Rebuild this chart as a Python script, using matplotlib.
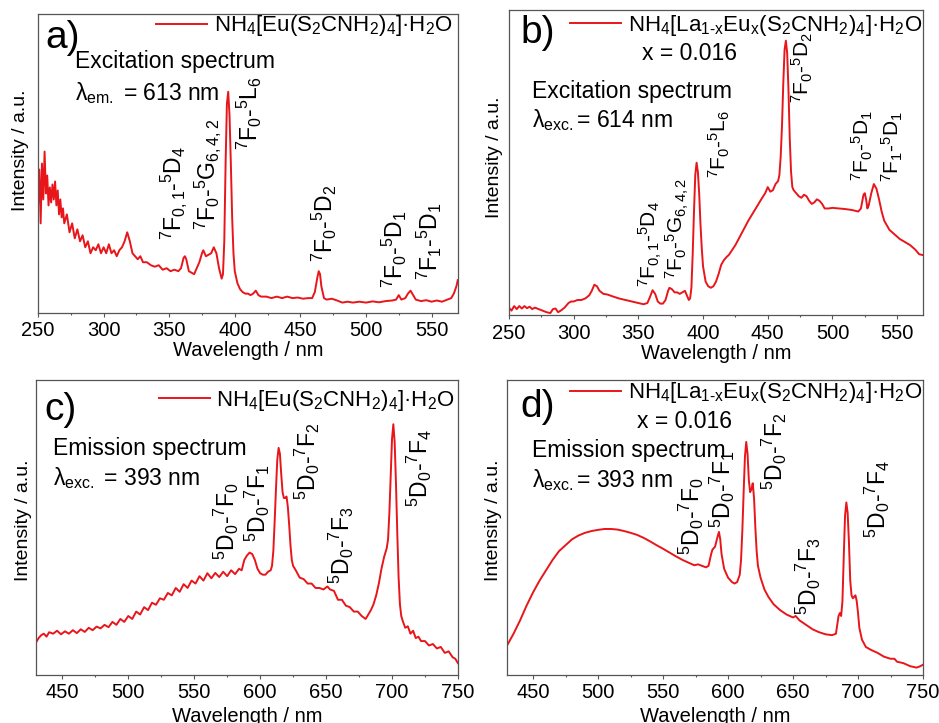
import matplotlib
matplotlib.use('Agg')
import matplotlib.pyplot as plt

plt.rcParams['font.family'] = ['Liberation Sans', 'DejaVu Sans']
plt.rcParams['mathtext.fontset'] = 'custom'
plt.rcParams['mathtext.rm'] = 'Liberation Sans'
plt.rcParams['mathtext.it'] = 'Liberation Sans:italic'
plt.rcParams['mathtext.bf'] = 'Liberation Sans:bold'
plt.rcParams['mathtext.default'] = 'rm'

RED = '#e8161b'
GREY = '#555555'

# a) excitation, NH4[Eu(S2CNH2)4]·H2O  (intensity in % of the plot height)
a_wl = [250, 251, 252, 253, 254, 255, 256, 257, 258, 259, 260, 261, 262, 263, 264, 265, 266, 267, 268, 269,
        270, 272, 274, 276, 278, 280, 282, 284, 286, 288, 290, 292, 294, 296, 298, 300, 302, 304, 306, 308,
        310, 312, 314, 316, 318, 320, 322, 324, 326, 328, 330, 333, 336, 339, 342, 345, 348, 351, 354, 357,
        359, 361, 362, 363, 365, 367, 369, 371, 373, 375, 376, 378, 380, 382, 384, 386, 388, 390, 391, 392,
        393, 394, 395, 396, 397, 398, 399, 400, 402, 404, 406, 408, 410, 412, 414, 416, 418, 420, 424, 428,
        432, 436, 440, 444, 448, 452, 456, 459, 461, 463, 464, 465, 466, 468, 470, 474, 478, 482, 486, 490,
        495, 500, 505, 510, 515, 520, 523, 525, 527, 530, 532, 534, 536, 538, 542, 546, 550, 554, 558, 562,
        565, 567, 569, 570]
a_int = [36, 48, 30, 50, 38, 54, 40, 46, 36, 42, 37, 43, 38, 44, 36, 41, 33, 38, 32, 35,
         30, 33, 27, 30, 25, 28, 24, 26, 22, 24, 20, 22, 21, 23, 20, 22, 20, 23, 20, 21,
         19, 21, 22, 24, 27, 24, 20, 19, 18, 19, 17, 17, 16, 15.5, 16, 14.5, 15, 14, 14.5, 14,
         15, 18.5, 19, 18, 14, 13.5, 13, 15, 17, 20, 21, 19, 19.5, 20, 22, 20, 15, 11.5, 13, 24,
         50, 70, 74, 66, 50, 32, 20, 14, 10, 8, 7, 6.5, 6.5, 6, 6.5, 7.5, 6, 5.5, 5.5, 5,
         5.5, 5, 5.5, 5, 5.2, 4.8, 5, 5, 7, 12, 14, 13, 9, 5, 4.5, 4.8, 4.2, 3.5, 3.8, 3.5,
         3.8, 3.5, 3.9, 3.6, 4, 4.2, 4.5, 6, 4.5, 5, 6.5, 7.5, 6, 4.5, 4, 4.3, 3.8, 4.2, 3.8, 4.5,
         5, 6.5, 9, 11]

# b) excitation, NH4[La1-xEux(S2CNH2)4]·H2O, x = 0.016
b_wl = [250, 252, 254, 256, 258, 260, 262, 264, 266, 268, 270, 273, 276, 279, 282, 284, 286, 288, 290, 293,
        296, 298, 300, 303, 306, 309, 312, 314, 316, 318, 320, 323, 326, 330, 335, 340, 345, 350, 354, 357,
        359, 361, 363, 365, 367, 369, 371, 373, 374, 376, 378, 380, 382, 384, 386, 388, 389, 390, 391, 392,
        393, 394, 395, 396, 397, 398, 399, 400, 402, 404, 406, 408, 410, 412, 414, 416, 418, 420, 425, 430,
        435, 440, 445, 448, 450, 452, 454, 456, 458, 459, 460, 461, 462, 463, 464, 465, 466, 467, 468, 469,
        470, 472, 474, 476, 478, 480, 482, 484, 486, 488, 490, 492, 494, 497, 500, 505, 510, 515, 520, 522,
        524, 525, 526, 527, 528, 530, 532, 534, 536, 538, 540, 544, 548, 552, 556, 560, 564, 567, 570]
b_int = [2.5, 1.5, 3, 2, 3, 2.2, 3, 2.3, 2.8, 2, 2.5, 2, 1.5, 1, 0.7, 2, 2.2, 1, 1.5, 2.5,
         4, 4.5, 4.5, 5, 5, 5.5, 6.5, 8, 10, 9.5, 8, 7, 6.8, 6.2, 5.5, 5, 4.5, 4, 3.6, 4,
         6, 8.2, 7, 4.5, 3.8, 3.8, 5, 8, 9, 8.5, 7.5, 7.5, 7, 7.5, 8, 6, 5, 5.5, 9, 20,
         34, 46, 50, 47, 40, 30, 22, 16, 11, 9.5, 9, 9.5, 11, 13.5, 16.5, 18, 19, 19.8, 23, 27,
         31, 34.5, 38, 40, 42, 40.5, 41, 43, 44, 46, 52, 62, 76, 87, 90, 86, 74, 58, 47, 42,
         41, 40, 39, 38.5, 39.5, 39, 37.5, 36.5, 37, 38, 37.5, 36.5, 35, 35, 35.2, 35, 34.8, 34.5, 34, 35,
         39.5, 40, 38, 35, 36, 40, 43, 41.5, 38, 34, 31, 28, 26.5, 25, 24, 23, 21.5, 20, 19.7]

# c) emission, NH4[Eu(S2CNH2)4]·H2O
c_wl = [430, 432, 434, 436, 438, 440, 443, 446, 449, 452, 455, 458, 461, 464, 467, 470, 473, 476, 479, 482,
        485, 488, 491, 494, 497, 500, 503, 506, 509, 512, 515, 518, 521, 524, 527, 530, 533, 536, 539, 542,
        545, 548, 551, 554, 557, 560, 563, 566, 569, 572, 575, 578, 581, 584, 586, 588, 590, 592, 594, 596,
        598, 600, 602, 604, 606, 608, 609, 610, 611, 612, 613, 614, 615, 616, 617, 618, 619, 620, 621, 622,
        623, 624, 625, 627, 630, 633, 636, 639, 642, 645, 648, 651, 653, 656, 659, 662, 665, 668, 671, 674,
        677, 680, 682, 684, 686, 688, 690, 692, 694, 696, 697, 698, 699, 700, 701, 702, 703, 704, 705, 706,
        707, 708, 710, 712, 714, 716, 718, 720, 722, 725, 728, 731, 734, 737, 740, 743, 746, 748, 750]
c_int = [11, 12.5, 13.5, 14, 13, 14.5, 14, 15, 13.8, 14.8, 14, 15.2, 14.2, 15.5, 14.6, 16, 15.2, 16.4, 15.8, 17,
         16.2, 18, 17, 19, 18, 20, 19, 21.5, 20.5, 23, 22, 24.5, 23.8, 26, 25.5, 27.8, 27, 29.5, 28.2, 30.8,
         29.5, 32, 31, 33.5, 32, 34.5, 32.8, 34.6, 33.2, 35, 33.5, 35.5, 34.2, 36, 35.5, 39, 40.5, 41.5, 41, 39,
         36, 34.5, 34, 34, 35, 35.5, 37, 42, 52, 63, 73, 77, 75, 68, 62, 60, 60, 60.5, 57, 51,
         44, 39, 37, 35.5, 33, 32.5, 31, 31, 29.5, 29.5, 29, 30, 29, 28.5, 25.5, 25.5, 23.5, 23, 21.5, 21.5,
         20, 19, 20.5, 22, 24, 27, 31, 36, 40, 43, 46, 55, 68, 80, 85, 79, 65, 48, 33, 24,
         20, 18.5, 16, 16.5, 14, 15, 12.5, 13, 11.5, 11.5, 10, 10.5, 9, 9.5, 7.5, 8, 6, 5.5, 4]

# d) emission, NH4[La1-xEux(S2CNH2)4]·H2O, x = 0.016
d_wl = [430, 435, 440, 445, 450, 455, 460, 465, 470, 475, 480, 485, 490, 495, 500, 505, 510, 515, 520, 525,
        530, 535, 540, 545, 550, 555, 560, 565, 570, 574, 577, 580, 583, 585, 587, 588, 590, 592, 593, 594,
        595, 597, 600, 603, 605, 607, 609, 610, 611, 612, 613, 614, 615, 616, 617, 618, 619, 620, 621, 622,
        623, 625, 628, 631, 635, 640, 645, 650, 652, 655, 660, 665, 670, 675, 680, 683, 685, 686, 687, 688,
        689, 690, 691, 692, 693, 694, 695, 696, 697, 698, 699, 700, 701, 703, 706, 710, 715, 720, 725, 728,
        730, 735, 740, 745, 748, 750]
d_int = [10, 14, 18.5, 23.5, 28, 32, 35.5, 39, 42, 44, 46, 47.3, 48.2, 48.8, 49.2, 49.5, 49.5, 49.3, 48.8, 48.2,
         47.5, 46.5, 45.3, 44, 42.8, 41.5, 40.2, 39, 38, 37.2, 37.5, 37, 36.5, 37, 41, 42.5, 43.5, 47, 48.5, 46,
         41, 36, 33, 31.5, 31, 31.5, 34, 39, 49, 62, 74, 79, 75, 66, 62, 63, 65, 60, 50, 42,
         37, 33, 29, 26.5, 24, 22, 20.5, 19.5, 20, 18.5, 17, 15.5, 14.5, 13.8, 13.5, 14, 20, 21, 20, 25,
         40, 54, 58.5, 55, 45, 32, 27, 26, 26.5, 27, 25, 21, 16, 12, 9.5, 8.5, 7.5, 6.2, 5.5, 5.5,
         4.5, 4, 3, 2.5, 3, 3.5]

# compound names and transition labels
eu_name = r'NH$_{4}$[Eu(S$_{2}$CNH$_{2}$)$_{4}$]·H$_{2}$O'
la_name = r'NH$_{4}$[La$_{1\text{-}x}$Eu$_{x}$(S$_{2}$CNH$_{2}$)$_{4}$]·H$_{2}$O'

exc_labels = [r'$^{7}$F$_{0,1}$-$^{5}$D$_{4}$', r'$^{7}$F$_{0}$-$^{5}$G$_{6,4,2}$', r'$^{7}$F$_{0}$-$^{5}$L$_{6}$',
              r'$^{7}$F$_{0}$-$^{5}$D$_{2}$', r'$^{7}$F$_{0}$-$^{5}$D$_{1}$', r'$^{7}$F$_{1}$-$^{5}$D$_{1}$']
em_labels = [r'$^{5}$D$_{0}$-$^{7}$F$_{0}$', r'$^{5}$D$_{0}$-$^{7}$F$_{1}$', r'$^{5}$D$_{0}$-$^{7}$F$_{2}$',
             r'$^{5}$D$_{0}$-$^{7}$F$_{3}$', r'$^{5}$D$_{0}$-$^{7}$F$_{4}$']

# where the rotated labels sit (wavelength, bottom of text)
a_lab_x = [353, 379.5, 411.5, 468.7, 522, 548.7]
a_lab_y = [24.4, 27.8, 54.5, 17, 8.4, 11]
b_lab_x = [359, 380.6, 413, 477, 522.8, 546]
b_lab_y = [9.2, 12, 45, 69.5, 44, 43.6]
c_lab_x = [574.8, 598.3, 635.5, 662, 721]
c_lab_y = [39, 45, 59.3, 31, 57]
d_lab_x = [572, 596, 636, 661.5, 715]
d_lab_y = [40.7, 50, 62.7, 20.3, 46.4]


def setup(ax, xlim, ticks, minors):
    ax.set_xlim(*xlim)
    ax.set_ylim(0, 100)
    ax.set_xticks(ticks)
    ax.set_xticks(minors, minor=True)
    ax.set_yticks([])
    for s in ax.spines.values():
        s.set_color(GREY)
        s.set_linewidth(0.9)
    ax.tick_params(axis='x', which='major', direction='out', length=3, width=0.8,
                   color=GREY, labelsize=14.5, pad=3)
    ax.tick_params(axis='x', which='minor', direction='out', length=1.6, width=0.8, color=GREY)
    ax.set_xlabel('Wavelength / nm', fontsize=14.5)
    ax.set_ylabel('Intensity / a.u.', fontsize=14)


fig = plt.figure(figsize=(9.39, 7.23), dpi=100)
ax_a = fig.add_axes([0.0405, 0.567, 0.447, 0.4136])
ax_b = fig.add_axes([0.542, 0.564, 0.441, 0.4219])
ax_c = fig.add_axes([0.0383, 0.0664, 0.4494, 0.408])
ax_d = fig.add_axes([0.540, 0.0664, 0.443, 0.408])

exc_ticks = [250, 300, 350, 400, 450, 500, 550]
exc_minor = [275, 325, 375, 425, 475, 525]
em_ticks = [450, 500, 550, 600, 650, 700, 750]
em_minor = [475, 525, 575, 625, 675, 725]

panels = [
    (ax_a, a_wl, a_int, eu_name, (250, 570), exc_ticks, exc_minor, exc_labels, a_lab_x, a_lab_y),
    (ax_b, b_wl, b_int, la_name, (250, 570), exc_ticks, exc_minor, exc_labels, b_lab_x, b_lab_y),
    (ax_c, c_wl, c_int, eu_name, (430, 750), em_ticks, em_minor, em_labels, c_lab_x, c_lab_y),
    (ax_d, d_wl, d_int, la_name, (430, 750), em_ticks, em_minor, em_labels, d_lab_x, d_lab_y),
]
# legend anchor (right edge, centre height) and ylabel position per panel
leg_pos = [(0.988, 0.96), (0.998, 0.95), (0.993, 0.932), (0.998, 0.956)]
ylab_pos = [(-0.021, 0.545), (-0.0145, 0.518), (-0.0095, 0.525), (-0.012, 0.525)]
xlab_y = [-0.094, -0.094, -0.108, -0.108]
ann_size = [16.5, 15, 16.5, 16.5]

for i, (ax, wl, inten, name, xlim, ticks, minors, labels, lx, ly) in enumerate(panels):
    setup(ax, xlim, ticks, minors)
    ax.plot(wl, inten, color=RED, lw=1.4, label=name)
    ax.legend(loc='center right', bbox_to_anchor=leg_pos[i], frameon=False, fontsize=16,
              borderpad=0, borderaxespad=0, handlelength=2.3, handletextpad=0.3)
    ax.yaxis.set_label_coords(*ylab_pos[i])
    ax.xaxis.set_label_coords(0.5, xlab_y[i])
    for t, x, y in zip(labels, lx, ly):
        ax.text(x, y, t, rotation=90, ha='center', va='bottom', fontsize=ann_size[i])

# panel letters
ax_a.text(0.017, 0.92, 'a)', transform=ax_a.transAxes, fontsize=28, va='center')
ax_b.text(0.027, 0.925, 'b)', transform=ax_b.transAxes, fontsize=28, va='center')
ax_c.text(0.021, 0.898, 'c)', transform=ax_c.transAxes, fontsize=28, va='center')
ax_d.text(0.031, 0.908, 'd)', transform=ax_d.transAxes, fontsize=28, va='center')

# measurement conditions
ax_a.text(0.088, 0.819, 'Excitation spectrum', transform=ax_a.transAxes, fontsize=16.5, va='baseline')
ax_a.text(0.088, 0.712, r'λ$_{em.}$ = 613 nm', transform=ax_a.transAxes, fontsize=16.5, va='baseline')
ax_b.text(0.321, 0.836, 'x = 0.016', transform=ax_b.transAxes, fontsize=16.5, va='baseline')
ax_b.text(0.056, 0.711, 'Excitation spectrum', transform=ax_b.transAxes, fontsize=16.5, va='baseline')
ax_b.text(0.056, 0.616, r'λ$_{exc.}$= 614 nm', transform=ax_b.transAxes, fontsize=16.5, va='baseline')
ax_c.text(0.04, 0.746, 'Emission spectrum', transform=ax_c.transAxes, fontsize=16.5, va='baseline')
ax_c.text(0.04, 0.644, r'λ$_{exc.}$ = 393 nm', transform=ax_c.transAxes, fontsize=16.5, va='baseline')
ax_d.text(0.3125, 0.837, 'x = 0.016', transform=ax_d.transAxes, fontsize=16.5, va='baseline')
ax_d.text(0.06, 0.739, 'Emission spectrum', transform=ax_d.transAxes, fontsize=16.5, va='baseline')
ax_d.text(0.06, 0.637, r'λ$_{exc.}$= 393 nm', transform=ax_d.transAxes, fontsize=16.5, va='baseline')

fig.savefig('out.png', dpi=100)
